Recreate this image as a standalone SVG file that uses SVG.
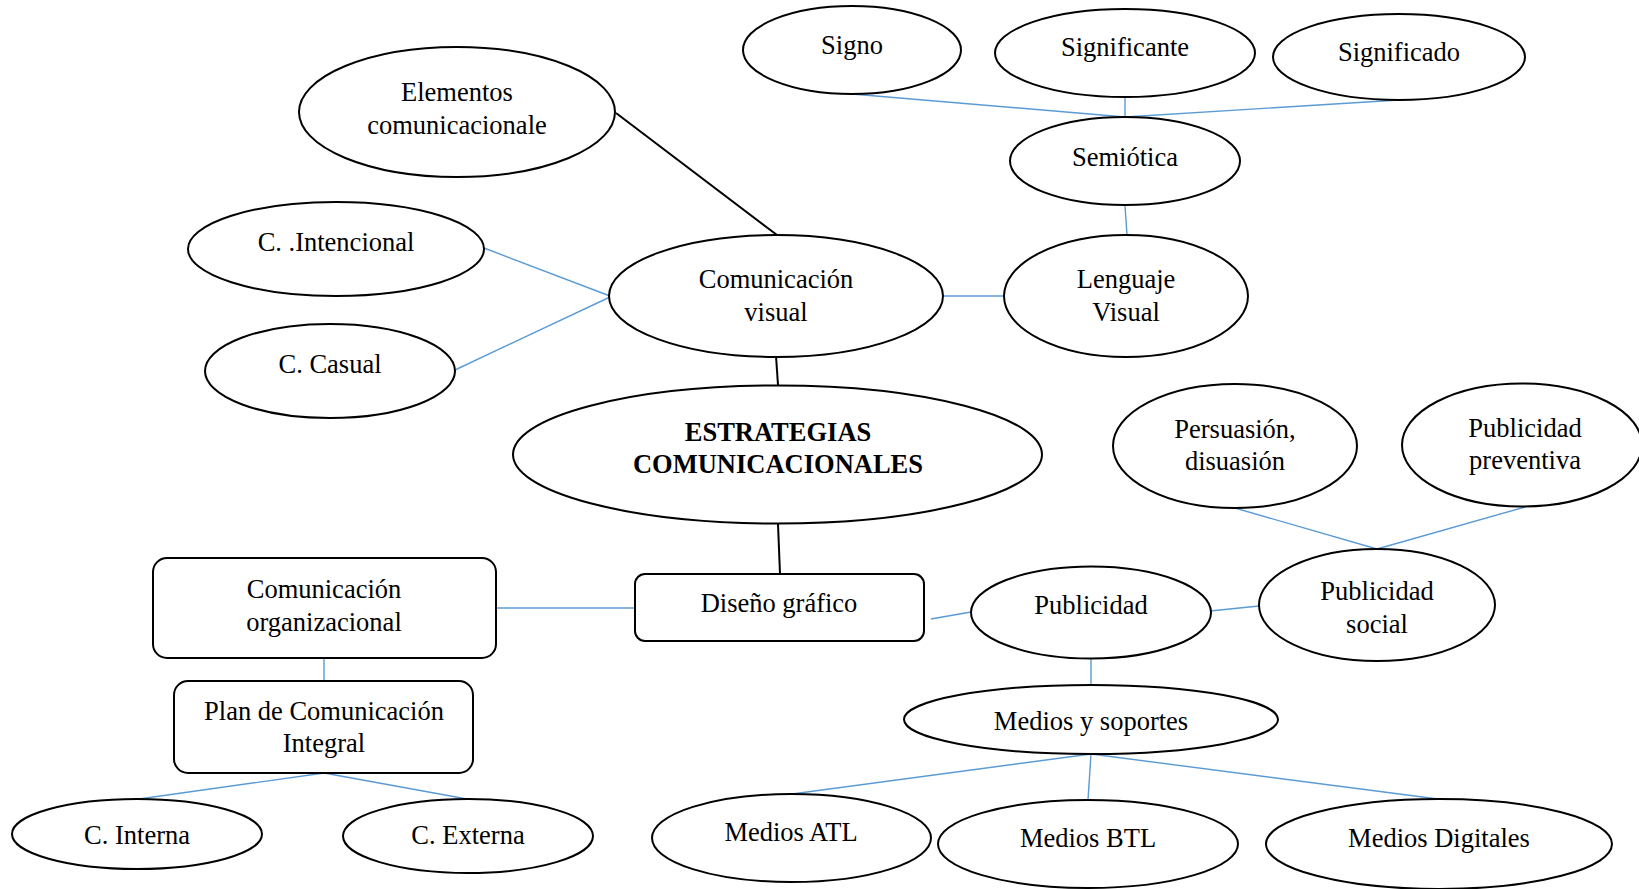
<svg xmlns="http://www.w3.org/2000/svg" width="1639" height="889" viewBox="0 0 1639 889">
  <style>
    .shape { fill: #ffffff; stroke: #000000; stroke-width: 2; }
    .lbl { font-family: "Liberation Serif", "Times New Roman", "DejaVu Serif", serif; font-size: 26.5px; fill: #000000; text-anchor: middle; }
    .bold { font-weight: bold; }
    .link-dark { stroke: #000000; stroke-width: 2; fill: none; }
    .link-blue { stroke: #5B9BD5; stroke-width: 1.4; fill: none; }
  </style>
  <rect width="1639" height="889" fill="#ffffff"/>

  <!-- connectors -->
  <g id="connectors">
    <line class="link-dark" x1="616" y1="113" x2="777" y2="235"/>
    <line class="link-dark" x1="776" y1="356" x2="778" y2="385"/>
    <line class="link-dark" x1="778" y1="524" x2="780" y2="574"/>

    <line class="link-blue" x1="852" y1="94" x2="1125" y2="117"/>
    <line class="link-blue" x1="1125" y1="97" x2="1125" y2="117"/>
    <line class="link-blue" x1="1399" y1="100" x2="1125" y2="117"/>
    <line class="link-blue" x1="1125" y1="206" x2="1127" y2="235"/>
    <line class="link-blue" x1="944" y1="296" x2="1005" y2="296"/>
    <line class="link-blue" x1="484" y1="248" x2="610" y2="296"/>
    <line class="link-blue" x1="455" y1="370" x2="610" y2="297"/>
    <line class="link-blue" x1="496" y1="608" x2="635" y2="608"/>
    <line class="link-blue" x1="324" y1="658" x2="324" y2="681"/>
    <line class="link-blue" x1="324" y1="773" x2="139" y2="799"/>
    <line class="link-blue" x1="324" y1="773" x2="467" y2="799"/>
    <line class="link-blue" x1="931" y1="619" x2="971" y2="612"/>
    <line class="link-blue" x1="1210" y1="611" x2="1259" y2="606"/>
    <line class="link-blue" x1="1235" y1="508" x2="1377" y2="549"/>
    <line class="link-blue" x1="1525" y1="507" x2="1377" y2="549"/>
    <line class="link-blue" x1="1091" y1="659" x2="1091" y2="685"/>
    <line class="link-blue" x1="1091" y1="754" x2="792" y2="794"/>
    <line class="link-blue" x1="1091" y1="754" x2="1088" y2="800"/>
    <line class="link-blue" x1="1091" y1="754" x2="1438" y2="799"/>
  </g>

  <!-- nodes -->
  <g id="n-elementos">
    <ellipse class="shape" cx="457" cy="112" rx="158" ry="65"/>
    <text class="lbl" x="457" y="101">Elementos</text>
    <text class="lbl" x="457" y="134">comunicacionale</text>
  </g>
  <g id="n-signo">
    <ellipse class="shape" cx="852" cy="50" rx="109" ry="44"/>
    <text class="lbl" x="852" y="54">Signo</text>
  </g>
  <g id="n-significante">
    <ellipse class="shape" cx="1125" cy="53" rx="130" ry="44"/>
    <text class="lbl" x="1125" y="56">Significante</text>
  </g>
  <g id="n-significado">
    <ellipse class="shape" cx="1399" cy="57" rx="126" ry="43"/>
    <text class="lbl" x="1399" y="61">Significado</text>
  </g>
  <g id="n-semiotica">
    <ellipse class="shape" cx="1125" cy="161" rx="115" ry="44"/>
    <text class="lbl" x="1125" y="166">Semiótica</text>
  </g>
  <g id="n-lenguaje">
    <ellipse class="shape" cx="1126" cy="296" rx="122" ry="61"/>
    <text class="lbl" x="1126" y="288">Lenguaje</text>
    <text class="lbl" x="1126" y="321">Visual</text>
  </g>
  <g id="n-comvisual">
    <ellipse class="shape" cx="776" cy="296" rx="167" ry="61"/>
    <text class="lbl" x="776" y="288">Comunicación</text>
    <text class="lbl" x="776" y="321">visual</text>
  </g>
  <g id="n-intencional">
    <ellipse class="shape" cx="336" cy="249" rx="148" ry="47"/>
    <text class="lbl" x="336" y="251">C. .Intencional</text>
  </g>
  <g id="n-casual">
    <ellipse class="shape" cx="330" cy="371" rx="125" ry="47"/>
    <text class="lbl" x="330" y="373">C. Casual</text>
  </g>
  <g id="n-estrategias">
    <ellipse class="shape" cx="777.5" cy="454.5" rx="264.5" ry="69"/>
    <text class="lbl bold" x="778" y="441">ESTRATEGIAS</text>
    <text class="lbl bold" x="778" y="473">COMUNICACIONALES</text>
  </g>
  <g id="n-diseno">
    <rect class="shape" x="635" y="574" width="289" height="67" rx="10"/>
    <text class="lbl" x="779" y="612">Diseño gráfico</text>
  </g>
  <g id="n-publicidad">
    <ellipse class="shape" cx="1091" cy="612.5" rx="120" ry="46"/>
    <text class="lbl" x="1091" y="614">Publicidad</text>
  </g>
  <g id="n-medios">
    <ellipse class="shape" cx="1091" cy="719.5" rx="187" ry="34.5"/>
    <text class="lbl" x="1091" y="730">Medios y soportes</text>
  </g>
  <g id="n-atl">
    <ellipse class="shape" cx="791.5" cy="838" rx="139.5" ry="44"/>
    <text class="lbl" x="791" y="841">Medios ATL</text>
  </g>
  <g id="n-btl">
    <ellipse class="shape" cx="1088" cy="844" rx="150" ry="44"/>
    <text class="lbl" x="1088" y="847">Medios BTL</text>
  </g>
  <g id="n-digitales">
    <ellipse class="shape" cx="1439" cy="844" rx="173" ry="45"/>
    <text class="lbl" x="1439" y="847">Medios Digitales</text>
  </g>
  <g id="n-pubsocial">
    <ellipse class="shape" cx="1377" cy="605" rx="118" ry="56"/>
    <text class="lbl" x="1377" y="600">Publicidad</text>
    <text class="lbl" x="1377" y="633">social</text>
  </g>
  <g id="n-persuasion">
    <ellipse class="shape" cx="1235" cy="446" rx="122" ry="62"/>
    <text class="lbl" x="1235" y="438">Persuasión,</text>
    <text class="lbl" x="1235" y="470">disuasión</text>
  </g>
  <g id="n-preventiva">
    <ellipse class="shape" cx="1522" cy="445" rx="120" ry="61.5"/>
    <text class="lbl" x="1525" y="437">Publicidad</text>
    <text class="lbl" x="1525" y="469">preventiva</text>
  </g>
  <g id="n-comorg">
    <rect class="shape" x="153" y="558" width="343" height="100" rx="14"/>
    <text class="lbl" x="324" y="598">Comunicación</text>
    <text class="lbl" x="324" y="631">organizacional</text>
  </g>
  <g id="n-plan">
    <rect class="shape" x="174" y="681" width="299" height="92" rx="14"/>
    <text class="lbl" x="324" y="720">Plan de Comunicación</text>
    <text class="lbl" x="324" y="752">Integral</text>
  </g>
  <g id="n-interna">
    <ellipse class="shape" cx="137" cy="834" rx="125" ry="35"/>
    <text class="lbl" x="137" y="844">C. Interna</text>
  </g>
  <g id="n-externa">
    <ellipse class="shape" cx="468" cy="836" rx="125" ry="37"/>
    <text class="lbl" x="468" y="844">C. Externa</text>
  </g>
</svg>
